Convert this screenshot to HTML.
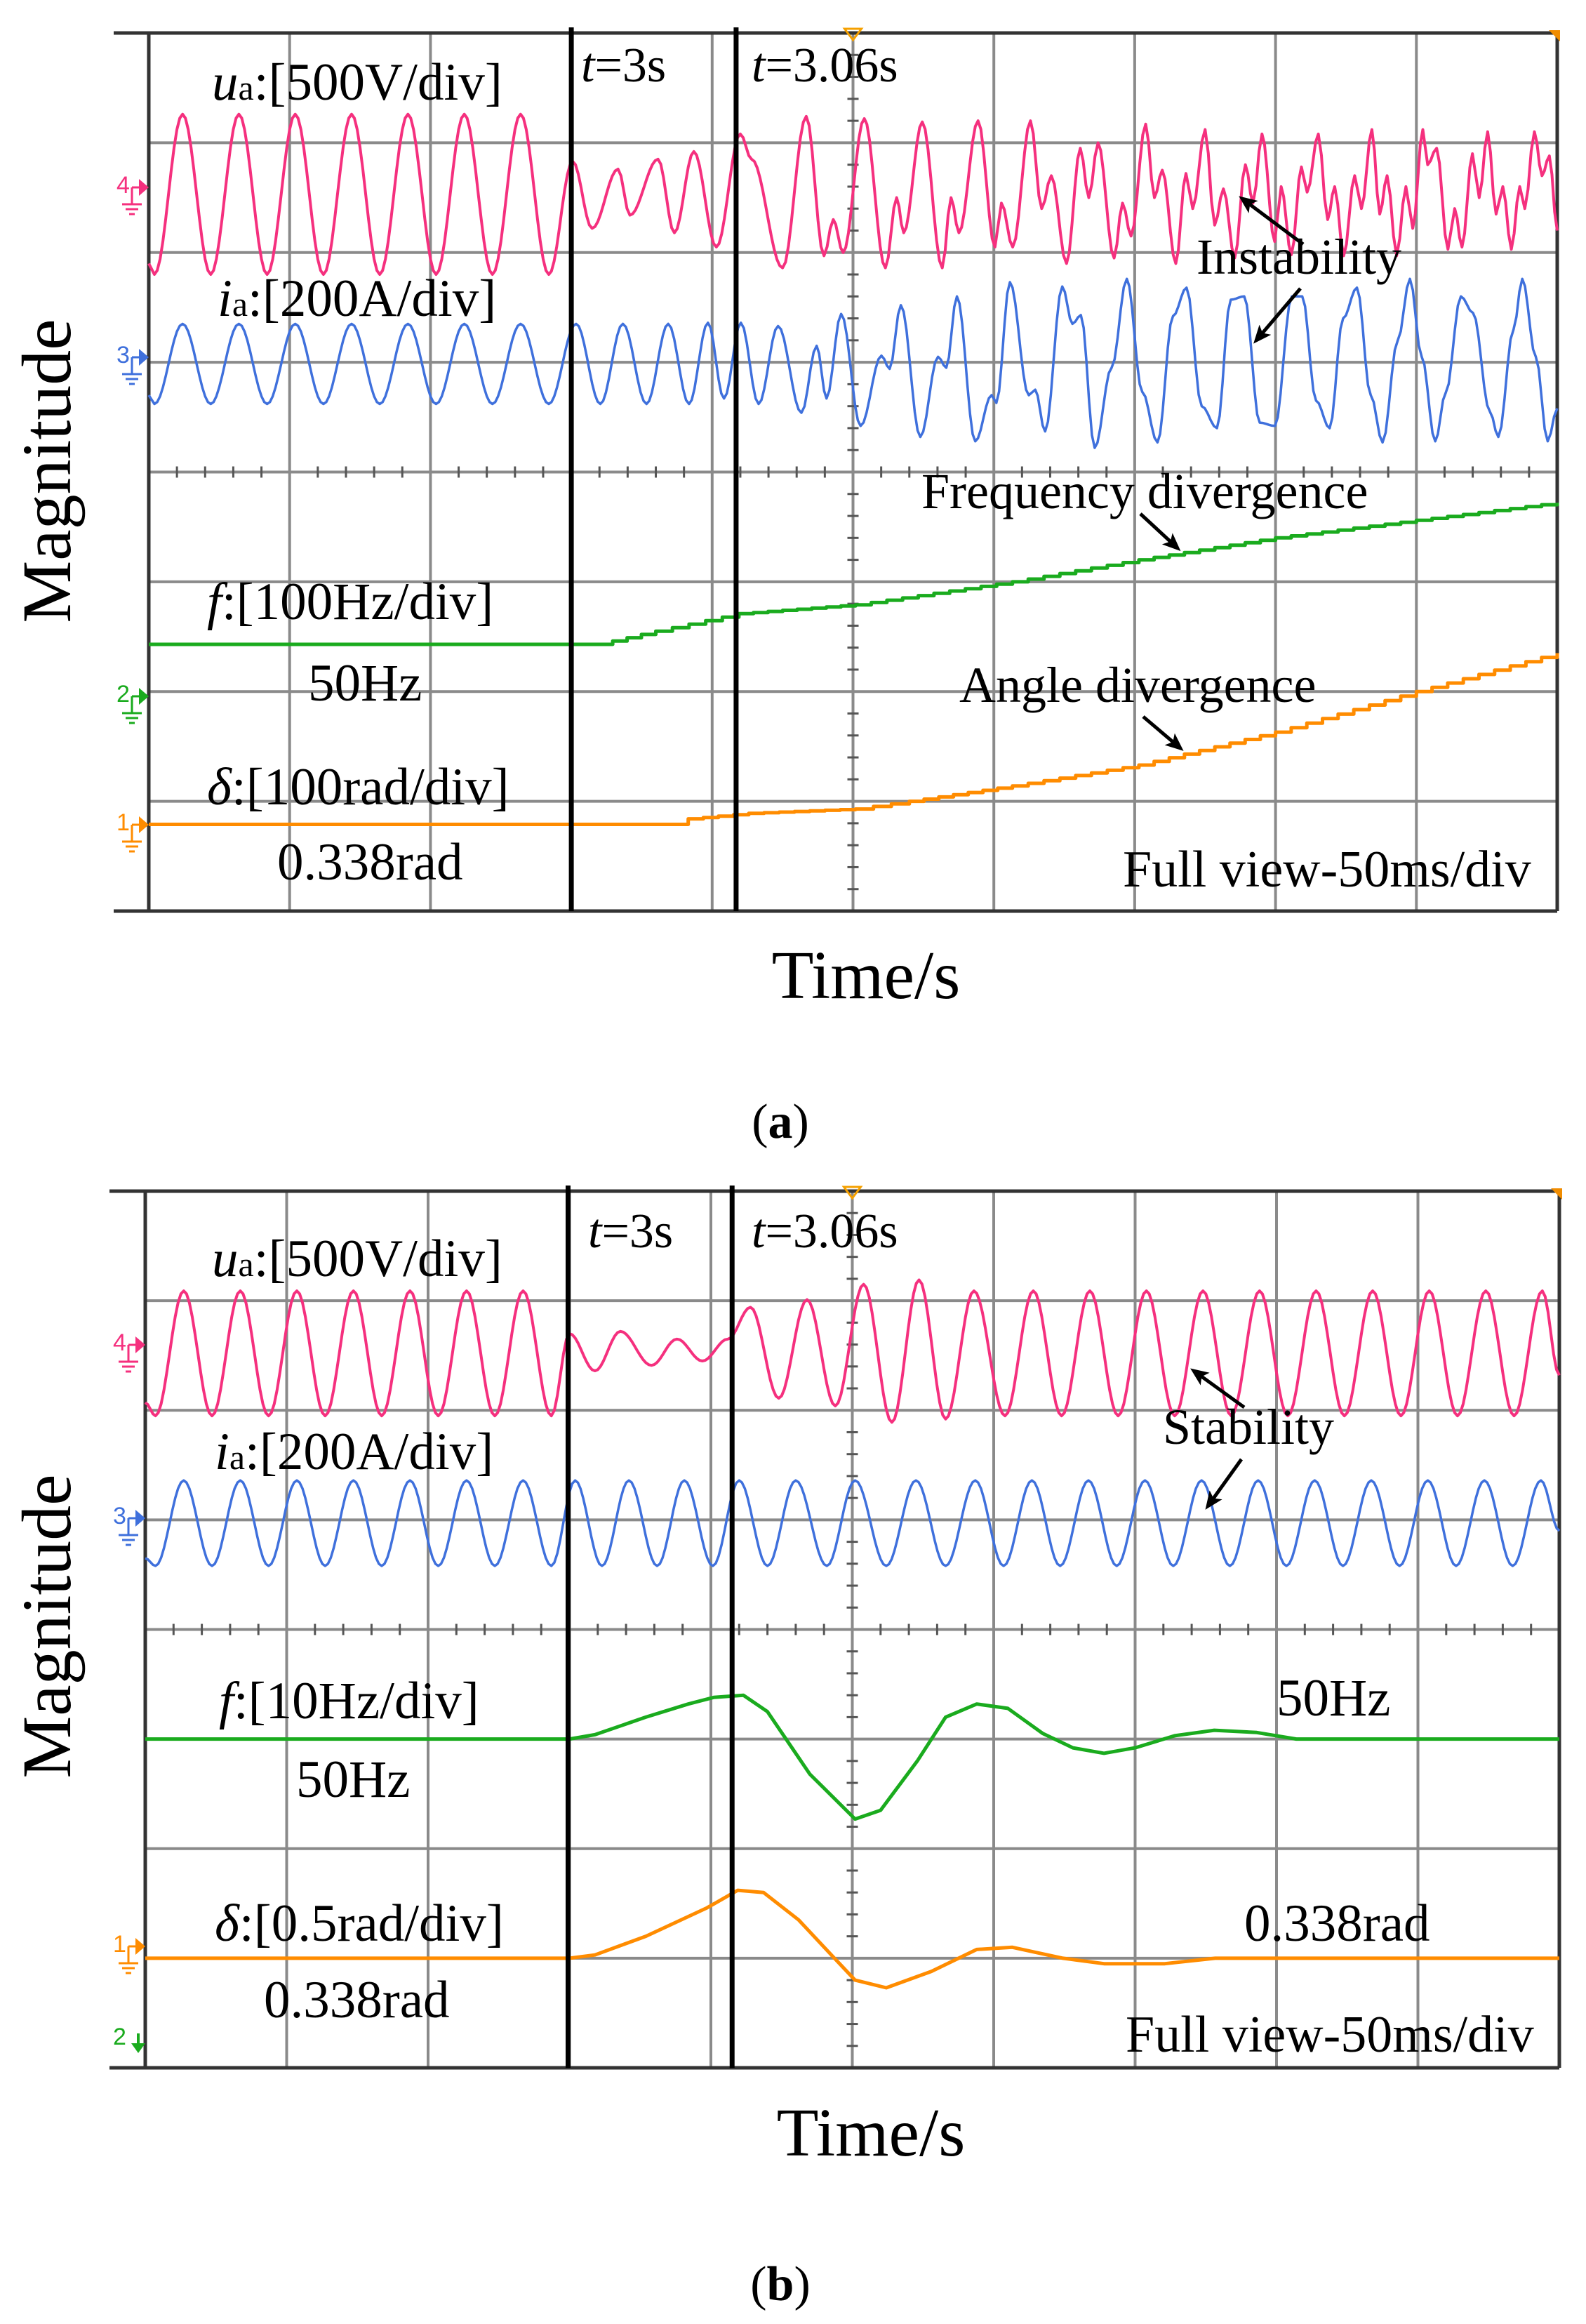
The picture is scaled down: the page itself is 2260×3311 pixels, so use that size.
<!DOCTYPE html>
<html><head><meta charset="utf-8">
<style>
html,body{margin:0;padding:0;background:#fff;}
svg{display:block;}
text{font-family:"Liberation Serif",serif;fill:#000;}
</style></head>
<body>
<svg id="fig" width="2260" height="3311" viewBox="0 0 2260 3311" xmlns="http://www.w3.org/2000/svg">
<g id="pa"></g>
<g id="pb"></g>
<g id="labels">
 <text x="302" y="142" font-size="75"><tspan font-style="italic">u</tspan><tspan font-size="50">a</tspan>:[500V/div]</text>
 <text x="310" y="450" font-size="75"><tspan font-style="italic">i</tspan><tspan font-size="50">a</tspan>:[200A/div]</text>
 <text x="828" y="116" font-size="70"><tspan font-style="italic">t</tspan>=3s</text>
 <text x="1071" y="116" font-size="70"><tspan font-style="italic">t</tspan>=3.06s</text>
 <text x="1705" y="390" font-size="72">Instability</text>
 <text x="1313" y="724" font-size="72">Frequency divergence</text>
 <text x="295" y="882" font-size="75"><tspan font-style="italic">f</tspan>:[100Hz/div]</text>
 <text x="439" y="998" font-size="75">50Hz</text>
 <text x="1367" y="1000" font-size="72">Angle divergence</text>
 <text x="295" y="1146" font-size="75"><tspan font-style="italic">δ</tspan>:[100rad/div]</text>
 <text x="395" y="1253" font-size="75">0.338rad</text>
 <text x="1600" y="1263" font-size="74">Full view-50ms/div</text>
 <text x="1234" y="1422" font-size="98" text-anchor="middle">Time/s</text>
 <text transform="translate(100,671) rotate(-90)" font-size="100" text-anchor="middle">Magnitude</text>
 <text x="1112" y="1621" font-size="70" text-anchor="middle">(<tspan font-weight="bold">a</tspan>)</text>
 <text x="302" y="1818" font-size="75"><tspan font-style="italic">u</tspan><tspan font-size="50">a</tspan>:[500V/div]</text>
 <text x="306" y="2093" font-size="75"><tspan font-style="italic">i</tspan><tspan font-size="50">a</tspan>:[200A/div]</text>
 <text x="838" y="1777" font-size="70"><tspan font-style="italic">t</tspan>=3s</text>
 <text x="1071" y="1777" font-size="70"><tspan font-style="italic">t</tspan>=3.06s</text>
 <text x="1657" y="2057" font-size="72">Stability</text>
 <text x="312" y="2448" font-size="75"><tspan font-style="italic">f</tspan>:[10Hz/div]</text>
 <text x="422" y="2560" font-size="75">50Hz</text>
 <text x="1819" y="2444" font-size="75">50Hz</text>
 <text x="306" y="2765" font-size="75"><tspan font-style="italic">δ</tspan>:[0.5rad/div]</text>
 <text x="1773" y="2765" font-size="75">0.338rad</text>
 <text x="376" y="2874" font-size="75">0.338rad</text>
 <text x="1604" y="2923" font-size="74">Full view-50ms/div</text>
 <text x="1241" y="3071" font-size="98" text-anchor="middle">Time/s</text>
 <text transform="translate(100,2317) rotate(-90)" font-size="100" text-anchor="middle">Magnitude</text>
 <text x="1112" y="3277" font-size="70" text-anchor="middle">(<tspan font-weight="bold">b</tspan>)</text>
</g>
<defs><marker id="ah" markerWidth="26" markerHeight="26" refX="20" refY="13" orient="auto" markerUnits="userSpaceOnUse" viewBox="0 0 26 26"><path d="M0,2 L26,13 L0,24 L6,13 z" fill="#000"/></marker></defs>
<g id="arrows" stroke="#000" stroke-width="5">
 <line x1="1857" y1="348" x2="1770" y2="283" marker-end="url(#ah)"/>
 <line x1="1853" y1="411" x2="1790" y2="485" marker-end="url(#ah)"/>
 <line x1="1625" y1="732" x2="1678" y2="781" marker-end="url(#ah)"/>
 <line x1="1629" y1="1021" x2="1682" y2="1066" marker-end="url(#ah)"/>
 <line x1="1773" y1="2005" x2="1701" y2="1953" marker-end="url(#ah)"/>
 <line x1="1769" y1="2079" x2="1721" y2="2146" marker-end="url(#ah)"/>
</g>
</svg>
<script>
const uaA_t = [0,2,12,22,32,42,52,62,72,82,92,102,112,122,132,142,150.5,157.4,166.6,170.8,180.8,186.6,193.5,201.5,210,214,225,233.4,239.7,243,246.5,254,261.5,265.5,268,274.6,281.7,284.8,287.6,294.4,300.4,302.7,306.7,313,317,320.4,325.8,330.7,333.7,337,342.7,345.7,348.7,353.9,357,359.8,364.6,368.2,370.6,375,378.4,381.5,385.5,389.3,392,395.2,399.7,402,405.6,409.2,411.2,415.2,418.5,421,424.2,428.1,430.5,434.2,437,439.6,443,446.3,448.7,452.3,454,457.2,461.2,463.6,466.2,469.9,472.3,475.3,478.3,480.7,483.7,486.7,488.5,491.9,494.6,497.2,500];
const uaA_v = [-0.6,-0.70,0.76,-0.70,0.76,-0.70,0.76,-0.70,0.76,-0.70,0.76,-0.70,0.76,-0.70,0.76,-0.70,0.33,-0.28,0.26,-0.16,0.35,-0.32,0.42,-0.45,0.58,0.35,-0.64,0.74,-0.53,-0.2,-0.5,0.72,-0.64,0.0,-0.32,0.69,-0.64,0.0,-0.32,0.70,-0.45,-0.05,-0.45,0.70,-0.1,0.2,-0.6,0.45,0.0,0.5,-0.55,-0.05,-0.35,0.67,0.0,0.25,-0.6,0.22,-0.1,0.62,-0.25,0.08,-0.55,0.30,-0.05,0.58,-0.4,0.1,-0.52,0.28,0.05,0.58,-0.2,0.1,-0.53,0.2,-0.1,0.62,-0.15,0.2,-0.53,0.1,-0.28,0.62,0.3,0.45,-0.47,-0.1,-0.45,0.4,0.0,0.6,-0.15,0.1,-0.47,0.1,-0.1,0.60,0.2,0.38,-0.3];
const iaA_t = [0,2,12,22,32,42,52,62,72,82,92,102,112,122,132,142,151.7,160.3,168.3,176.7,184.4,191.8,198.5,204.2,210.2,216.5,223.4,231.7,237.1,240.6,245.8,252.7,260.1,263,267,273.9,280.2,283.1,286.9,293.4,299.2,300.9,305.7,312.4,314.7,318.2,324.3,327.9,330.9,335.8,341.8,347.2,352.7,358.1,363.6,368.4,373.8,379.2,384.1,388.9,394.4,399.8,405.8,409.5,414.4,419.2,424,428.9,433.8,438,443.4,447.7,451.9,456.7,460.4,465.8,470.1,476.1,479.1,484.5,487.6,492.4,496.6,500];
const iaA_v = [-0.3,-0.38,0.35,-0.38,0.35,-0.38,0.35,-0.38,0.35,-0.38,0.35,-0.38,0.35,-0.38,0.35,-0.38,0.35,-0.38,0.35,-0.38,0.35,-0.38,0.36,-0.33,0.36,-0.38,0.33,-0.46,0.15,-0.33,0.44,-0.58,0.06,-0.06,0.52,-0.68,0.05,-0.05,0.6,-0.72,-0.3,-0.37,0.73,-0.3,-0.25,-0.63,0.69,0.35,0.43,-0.78,-0.05,0.76,-0.27,-0.73,0.42,0.68,-0.4,-0.6,0.57,0.6,-0.55,-0.58,0.6,0.6,-0.35,-0.6,0.4,0.68,-0.3,-0.73,0.2,0.76,0.05,-0.72,-0.28,0.6,0.45,-0.45,-0.68,0.3,0.76,0.05,-0.72,-0.42];
const fA_t = [0,159.6,180,209.5,250.9,306.6,351.5,400,450,500];
const fA_v = [0,0,0.12,0.28,0.36,0.57,0.77,0.97,1.13,1.29];
const dA_t = [0,190,191.5,213,250.9,270,306.6,351.5,400,450,500];
const dA_v = [0,0,0.05,0.1,0.14,0.21,0.35,0.54,0.84,1.21,1.56];

const uaB_t = [0,3.6,13.6,23.6,33.6,43.6,53.6,63.6,73.6,83.6,93.6,103.6,113.6,123.6,133.6,143.6,150,159,168,179,188,197,206,214,224,234,244,254,264,273.6,283,293,304,314,324,334,344,354,364,374,384,394,404,414,424,434,444,454,464,474,484,494,500];
const uaB_v = [-0.45,-0.57,0.57,-0.57,0.57,-0.57,0.57,-0.57,0.57,-0.57,0.57,-0.57,0.57,-0.57,0.57,-0.57,0.18,-0.16,0.2,-0.11,0.13,-0.07,0.13,0.42,-0.41,0.49,-0.48,0.63,-0.63,0.67,-0.6,0.57,-0.57,0.57,-0.57,0.57,-0.57,0.57,-0.57,0.57,-0.57,0.57,-0.57,0.57,-0.57,0.57,-0.57,0.57,-0.57,0.57,-0.57,0.57,-0.2];
const iaB_t = [0,3.6,13.6,23.6,33.6,43.6,53.6,63.6,73.6,83.6,93.6,103.6,113.6,123.6,133.6,143.6,152,161.5,171,181,190.6,200.7,210,220,230,241,251,262,272.5,283,293.5,303.5,313.5,323.5,333.5,343.5,353.5,363.5,373.5,383.5,393.5,403.5,413.5,423.5,433.5,443.5,453.5,463.5,473.5,483.5,493.5,500];
const iaB_v = [-0.35,-0.42,0.36,-0.42,0.36,-0.42,0.36,-0.42,0.36,-0.42,0.36,-0.42,0.36,-0.42,0.36,-0.42,0.36,-0.42,0.36,-0.42,0.36,-0.42,0.36,-0.42,0.36,-0.42,0.36,-0.42,0.36,-0.42,0.36,-0.42,0.36,-0.42,0.36,-0.42,0.36,-0.42,0.36,-0.42,0.36,-0.42,0.36,-0.42,0.36,-0.42,0.36,-0.42,0.36,-0.42,0.36,-0.1];
const fB_t = [0,150,159,177,192,201,211.5,220,235,251,260,273,283,294,305,317.4,328,339,350,364,378,393,407,500];
const fB_v = [0,0,0.04,0.2,0.32,0.38,0.40,0.25,-0.32,-0.73,-0.65,-0.2,0.2,0.32,0.28,0.05,-0.08,-0.13,-0.08,0.03,0.08,0.06,0,0];
const dB_t = [0,150,159,177,198.6,209.5,218.6,231,243.7,251,262,278,294,306.6,324.5,339,360.5,378.3,500];
const dB_v = [0,0,0.03,0.2,0.46,0.62,0.6,0.35,0,-0.2,-0.27,-0.12,0.08,0.1,0,-0.05,-0.05,0,0];

const NS = "http://www.w3.org/2000/svg";
function mk(tag, attrs, parent){ const e=document.createElementNS(NS,tag); for(const k in attrs) e.setAttribute(k,attrs[k]); parent.appendChild(e); return e; }

function drawPanel(g, P, traces, tLines, markers){
  const dw=(P.x1-P.x0)/10, dh=(P.y1-P.y0)/8;
  const xOf = t => P.x0 + t/500*(P.x1-P.x0);
  const yOf = (row,v) => P.y0 + (row - v)*dh;
  for(let i=1;i<10;i++){
    const l=mk('line',{x1:P.x0+i*dw,y1:P.y0,x2:P.x0+i*dw,y2:P.y1,stroke:'#8a8a8a','stroke-width':4},g);
    
    
  }
  for(let j=1;j<8;j++){
    const l=mk('line',{x1:P.x0,y1:P.y0+j*dh,x2:P.x1,y2:P.y0+j*dh,stroke:'#8a8a8a','stroke-width':4},g);
    
    
  }
  const cx=P.x0+5*dw, cy=P.y0+4*dh;
  for(let k=1;k<40;k++){ const y=P.y0+k*dh/5; if(k%5) { const t=mk('line',{x1:cx-8,y1:y,x2:cx+8,y2:y,stroke:'#555','stroke-width':3},g);   } }
  for(let k=1;k<50;k++){ const x=P.x0+k*dw/5; if(k%5) { const t=mk('line',{x1:x,y1:cy-8,x2:x,y2:cy+8,stroke:'#555','stroke-width':3},g);   } }
  const f1=mk('line',{x1:P.ext,y1:P.y0,x2:P.x1,y2:P.y0,stroke:'#333','stroke-width':5},g);
   
  const f2=mk('line',{x1:P.ext,y1:P.y1,x2:P.x1,y2:P.y1,stroke:'#333','stroke-width':5},g);
   
  const f3=mk('line',{x1:P.x0,y1:P.y0,x2:P.x0,y2:P.y1,stroke:'#333','stroke-width':5},g);
   
  const f4=mk('line',{x1:P.x1,y1:P.y0,x2:P.x1,y2:P.y1,stroke:'#333','stroke-width':5},g);
   
  const tm=mk('path',{d:`M${cx-12},${P.y0-6} L${cx+12},${P.y0-6} L${cx},${P.y0+10} Z`,fill:'none',stroke:'#f5a000','stroke-width':3},g);
   
  const tr=mk('path',{d:`M${P.x1-12},${P.y0-4} L${P.x1+4},${P.y0-4} L${P.x1+4},${P.y0+12} Z`,fill:'#f08c00'},g);
   
  traces.forEach(tr=>{
    const n=Math.min(tr.t.length,tr.v.length);
    let d='';
    if(tr.step){
      for(let i=0;i<n;i++){
        const x=xOf(tr.t[i]), y=yOf(tr.row,tr.v[i]);
        if(i===0){ d+=`M${x.toFixed(1)},${y.toFixed(1)}`; continue; }
        const x0=xOf(tr.t[i-1]), y0=yOf(tr.row,tr.v[i-1]);
        const steps=Math.max(1,Math.round((x-x0)/22));
        for(let s=1;s<=steps;s++){
          const xs=x0+(x-x0)*s/steps, ys=y0+(y-y0)*s/steps;
          d+=` H${xs.toFixed(1)} V${ys.toFixed(1)}`;
        }
      }
    } else if(tr.smooth){
      for(let i=0;i<n;i++){
        const x=xOf(tr.t[i]), y=yOf(tr.row,tr.v[i]);
        if(i===0){ d+=`M${x.toFixed(1)},${y.toFixed(1)}`; continue; }
        const xa=xOf(tr.t[i-1]), ya=yOf(tr.row,tr.v[i-1]);
        const seg=Math.max(2,Math.round((x-xa)/4));
        for(let s=1;s<=seg;s++){
          const u=s/seg, w=(1-Math.cos(Math.PI*u))/2;
          d+=` L${(xa+(x-xa)*u).toFixed(1)},${(ya+(y-ya)*w).toFixed(1)}`;
        }
      }
    } else {
      for(let i=0;i<n;i++){ const x=xOf(tr.t[i]), y=yOf(tr.row,tr.v[i]); d+=(i?' L':'M')+x.toFixed(1)+','+y.toFixed(1); }
    }
    const p=mk('path',{d:d,fill:'none',stroke:tr.color,'stroke-width':tr.w||4,'stroke-linejoin':'round'},g);
    
    
  });
  tLines.forEach(tl=>{
    const l=mk('line',{x1:xOf(tl.t),y1:P.y0-8,x2:xOf(tl.t),y2:P.y1,stroke:'#000','stroke-width':7},g);
    
    
  });
  markers.forEach(m=>{
    const mg=mk('g',{},g);
    
    
    const txt=mk('text',{x:P.x0-46,y:m.y+8,'font-size':34,fill:m.color,style:'font-family:"Liberation Sans",sans-serif;fill:'+m.color},mg);
    txt.textContent=m.label;
    if(m.down){
      mk('line',{x1:P.x0-10,y1:m.y-8,x2:P.x0-10,y2:m.y+10,stroke:m.color,'stroke-width':4},mg);
      mk('path',{d:`M${P.x0-20},${m.y+6} L${P.x0},${m.y+6} L${P.x0-10},${m.y+20} Z`,fill:m.color},mg);
    } else {
      mk('path',{d:`M${P.x0-24},${m.y} L${P.x0-10},${m.y} M${P.x0-24},${m.y} L${P.x0-24},${m.y+24} M${P.x0-38},${m.y+24} L${P.x0-10},${m.y+24} M${P.x0-33},${m.y+31} L${P.x0-15},${m.y+31} M${P.x0-28},${m.y+38} L${P.x0-20},${m.y+38}`,stroke:m.color,'stroke-width':3,fill:'none'},mg);
      mk('path',{d:`M${P.x0-14},${m.y-12} L${P.x0},${m.y} L${P.x0-14},${m.y+12} Z`,fill:m.color},mg);
    }
  });
}

const PINK='#f5307e', BLUE='#3f70dc', GREEN='#1aab1e', ORANGE='#ff8c00';
const PA={x0:212,x1:2219,y0:47,y1:1298,ext:162};
drawPanel(document.getElementById('pa'),PA,[
  {name:'ua-trace-a',t:uaA_t,v:uaA_v,row:1.5,color:PINK,smooth:true},
  {name:'ia-trace-a',t:iaA_t,v:iaA_v,row:3,color:BLUE,smooth:true,w:3.5},
  {name:'f-trace-a',t:fA_t,v:fA_v,row:5.57,color:GREEN,step:true,w:5},
  {name:'delta-trace-a',t:dA_t,v:dA_v,row:7.21,color:ORANGE,step:true,w:5}
],[{t:150,name:'t-3s-line-a'},{t:208.5,name:'t-3.06s-line-a'}],
[{label:'4',y:267,color:PINK},{label:'3',y:509,color:BLUE},{label:'2',y:992,color:GREEN},{label:'1',y:1175,color:ORANGE}]);

const PB={x0:207,x1:2222,y0:1697,y1:2946,ext:156};
drawPanel(document.getElementById('pb'),PB,[
  {name:'ua-trace-b',t:uaB_t,v:uaB_v,row:1.48,color:PINK,smooth:true},
  {name:'ia-trace-b',t:iaB_t,v:iaB_v,row:3,color:BLUE,smooth:true,w:3.5},
  {name:'f-trace-b',t:fB_t,v:fB_v,row:5,color:GREEN,w:5},
  {name:'delta-trace-b',t:dB_t,v:dB_v,row:7,color:ORANGE,w:5}
],[{t:149.5,name:'t-3s-line-b'},{t:207.5,name:'t-3.06s-line-b'}],
[{label:'4',y:1916,color:PINK},{label:'3',y:2163,color:BLUE},{label:'1',y:2773,color:ORANGE},{label:'2',y:2905,color:GREEN,down:true}]);
</script>
</body></html>
